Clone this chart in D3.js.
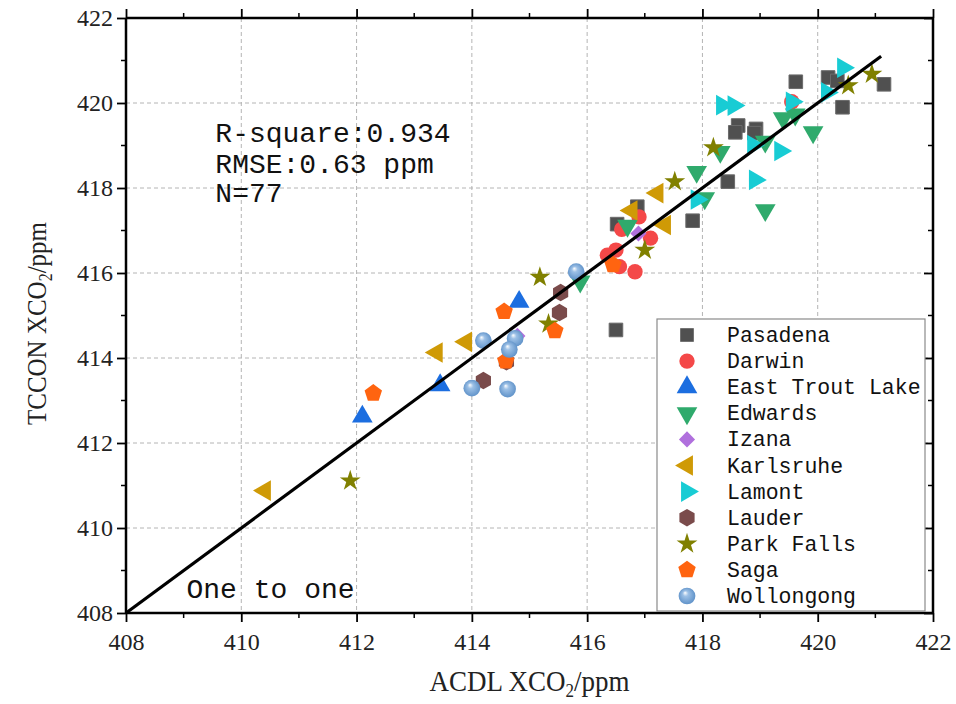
<!DOCTYPE html>
<html>
<head>
<meta charset="utf-8">
<script src="https://cdn.jsdelivr.net/npm/d3@7"></script>
<style>
  body { margin: 0; background: #fff; }
  svg { display: block; }
</style>
</head>
<body>
<div id="chart"></div>
<script>
// Site names, legend order
var sites = ["Pasadena", "Darwin", "East Trout Lake", "Edwards", "Izana", "Karlsruhe",
             "Lamont", "Lauder", "Park Falls", "Saga", "Wollongong"];

// ACDL (x) / TCCON (y) pairs
var pasadena = [[419.62,420.50],[420.18,420.60],[420.34,420.52],[421.15,420.44],[420.43,419.90],
                [418.62,419.47],[418.57,419.31],[418.93,419.39],[418.90,419.29],[418.44,418.15],
                [417.83,417.23],[416.87,417.56],[416.52,417.15],[416.50,414.66]];
var darwin = [[419.55,420.03],[416.90,417.32],[416.60,417.03],[417.10,416.82],[416.35,416.42],
              [416.50,416.54],[416.56,416.15],[416.83,416.03]];
var eastTroutLake = [[414.82,415.32],[413.45,413.36],[412.10,412.62]];
var edwards = [[417.90,418.38],[418.31,418.85],[419.09,419.09],[419.40,419.64],[419.61,419.73],
               [419.92,419.31],[419.09,417.48],[418.04,417.76],[416.70,417.11],[415.88,415.80]];
var izana = [[416.89,416.93],[414.79,414.52]];
var karlsruhe = [[417.22,417.88],[416.77,417.47],[417.35,417.13],[413.39,414.13],[413.90,414.38],
                 [410.41,410.88]];
var lamont = [[420.44,420.83],[420.16,420.25],[419.55,420.03],[418.34,419.95],[418.54,419.94],
              [418.88,419.01],[419.35,418.87],[418.91,418.19],[417.90,417.73]];
var lauder = [[415.54,415.54],[415.52,415.07],[414.60,413.91],[414.20,413.47]];
var parkFalls = [[418.19,418.95],[420.94,420.68],[420.53,420.41],[417.52,418.15],[417.00,416.54],
                 [415.18,415.90],[415.33,414.80],[411.89,411.11]];
var saga = [[414.56,415.09],[415.44,414.64],[414.59,413.93],[416.45,416.19],[412.29,413.17]];
var wollongong = [[415.81,416.03],[414.20,414.41],[414.75,414.46],[414.65,414.20],[414.00,413.29],
                  [414.62,413.27]];

var seriesValues = [pasadena, darwin, eastTroutLake, edwards, izana, karlsruhe,
                    lamont, lauder, parkFalls, saga, wollongong];

var tickValues = [408, 410, 412, 414, 416, 418, 420, 422];
var statsLines = ["R-square:0.934", "RMSE:0.63 ppm", "N=77"];
var oneToOne = [408, 421.1];

// marker look per site
var colors = ["#505050", "#f44848", "#1c6ee0", "#2faa6c", "#b070dd", "#cf9a06",
              "#18ccd4", "#7a4b4b", "#808000", "#ff6410", "#6a9fd4"];

// custom polygon symbols
function polygon(n, k, rot) {
    return {
        draw: function(ctx, size) {
            var r = Math.sqrt(size / k);
            for (var i = 0; i < n; i++) {
                var a = rot + i * 2 * Math.PI / n;
                var px = r * Math.sin(a), py = -r * Math.cos(a);
                if (i === 0) ctx.moveTo(px, py); else ctx.lineTo(px, py);
            }
            ctx.closePath();
        }
    };
}
var pentagon = polygon(5, 2.378, 0);
var hexagon = polygon(6, 2.598, 0);

var markers = [
    {type: d3.symbolSquare, size: 185, rot: 0},
    {type: d3.symbolCircle, size: 185, rot: 0},
    {type: d3.symbolTriangle, size: 185, rot: 0},
    {type: d3.symbolTriangle, size: 185, rot: 180},
    {type: d3.symbolSquare, size: 130, rot: 45},
    {type: d3.symbolTriangle, size: 185, rot: -90},
    {type: d3.symbolTriangle, size: 185, rot: 90},
    {type: hexagon, size: 200, rot: 0},
    {type: d3.symbolStar, size: 135, rot: 0},
    {type: pentagon, size: 200, rot: 0},
    {type: d3.symbolCircle, size: 220, rot: 0}
];

var W = 956, H = 704;
var margin = {top: 18, right: 23, bottom: 91, left: 126};
var width = W - margin.left - margin.right,
    height = H - margin.top - margin.bottom;

var svg = d3.select("#chart").append("svg")
    .attr("width", W)
    .attr("height", H);

var defs = svg.append("defs");
var grad = defs.append("radialGradient")
    .attr("id", "sphere")
    .attr("cx", "50%").attr("cy", "50%").attr("r", "55%")
    .attr("fx", "38%").attr("fy", "30%");
grad.append("stop").attr("offset", "0%").attr("stop-color", "#ffffff");
grad.append("stop").attr("offset", "30%").attr("stop-color", "#9cc0e6");
grad.append("stop").attr("offset", "100%").attr("stop-color", "#5a8ec6");

var g = svg.append("g")
    .attr("transform", "translate(" + margin.left + "," + margin.top + ")");

var x = d3.scaleLinear().domain([408, 422]).range([0, width]);
var y = d3.scaleLinear().domain([408, 422]).range([height, 0]);

var inner = tickValues.slice(1, -1);
var minorTicks = d3.range(408, 423, 1);

// grid
g.append("g").selectAll("line").data(inner).join("line")
    .attr("x1", function(d) { return x(d); }).attr("x2", function(d) { return x(d); })
    .attr("y1", 0).attr("y2", height)
    .attr("stroke", "#b4b4b4").attr("stroke-width", 1).attr("stroke-dasharray", "4,3");
g.append("g").selectAll("line").data(inner).join("line")
    .attr("y1", function(d) { return y(d); }).attr("y2", function(d) { return y(d); })
    .attr("x1", 0).attr("x2", width)
    .attr("stroke", "#b4b4b4").attr("stroke-width", 1).attr("stroke-dasharray", "4,3");

// stats text
g.append("g").selectAll("text").data(statsLines).join("text")
    .attr("x", x(409.55))
    .attr("y", function(d, i) { return [124, 155, 184][i]; })
    .attr("font-family", "Liberation Mono, monospace")
    .attr("font-size", 28)
    .attr("fill", "#111")
    .text(function(d) { return d; });

g.append("text")
    .attr("x", x(409.05)).attr("y", 580)
    .attr("font-family", "Liberation Mono, monospace")
    .attr("font-size", 28)
    .attr("fill", "#111")
    .text("One to one");

// points
function symbolPath(m) { return d3.symbol().type(m.type).size(m.size)(); }

seriesValues.forEach(function(vals, si) {
    var m = markers[si];
    g.append("g").selectAll("path").data(vals).join("path")
        .attr("d", symbolPath(m))
        .attr("transform", function(d) {
            return "translate(" + x(d[0]) + "," + y(d[1]) + ") rotate(" + m.rot + ")";
        })
        .attr("fill", si === 10 ? "url(#sphere)" : colors[si])
        .attr("stroke", si === 0 ? "#6a6a6a" : "none")
        .attr("stroke-width", 1);
});

// one to one line
g.append("line")
    .attr("x1", x(oneToOne[0])).attr("y1", y(oneToOne[0]))
    .attr("x2", x(oneToOne[1])).attr("y2", y(oneToOne[1]))
    .attr("stroke", "#000").attr("stroke-width", 3.2);

// axes
var fmt = d3.format("d");
var axB = g.append("g").attr("transform", "translate(0," + height + ")")
    .call(d3.axisBottom(x).tickValues(tickValues).tickFormat(fmt).tickSize(9).tickPadding(11));
var axL = g.append("g")
    .call(d3.axisLeft(y).tickValues(tickValues).tickFormat(fmt).tickSize(9).tickPadding(4));
var axT = g.append("g")
    .call(d3.axisTop(x).tickValues(tickValues).tickFormat("").tickSize(9));
var axR = g.append("g").attr("transform", "translate(" + width + ",0)")
    .call(d3.axisRight(y).tickValues(tickValues).tickFormat("").tickSize(-9));

// minor ticks
function minor(sel, horiz, dir) {
    sel.append("g").selectAll("line").data(minorTicks.filter(function(d) { return d % 2 === 1; }))
        .join("line")
        .attr(horiz ? "x1" : "y1", function(d) { return horiz ? x(d) : y(d); })
        .attr(horiz ? "x2" : "y2", function(d) { return horiz ? x(d) : y(d); })
        .attr(horiz ? "y1" : "x1", 0)
        .attr(horiz ? "y2" : "x2", dir * 5)
        .attr("stroke", "#000").attr("stroke-width", 1.5);
}
minor(axB, true, 1);
minor(axT, true, -1);
minor(axL, false, -1);
minor(axR, false, -1);

[axB, axL, axT, axR].forEach(function(a) {
    a.select(".domain").attr("stroke-width", 2.5).attr("stroke", "#000");
    a.selectAll(".tick line").attr("stroke-width", 1.8);
    a.selectAll("text")
        .attr("font-family", "Liberation Serif, serif")
        .attr("font-size", 24)
        .attr("fill", "#222");
});
axB.select(".domain").attr("d", "M0,0H" + width);
axT.select(".domain").attr("d", "M0,0H" + width);
axL.select(".domain").attr("d", "M0,0V" + height);
axR.select(".domain").attr("d", "M0,0V" + height);

// axis titles
var xt = svg.append("text")
    .attr("transform", "translate(" + (margin.left + width / 2) + ",691) scale(1,1.1)")
    .attr("text-anchor", "middle")
    .attr("font-family", "Liberation Serif, serif")
    .attr("font-size", 27)
    .attr("fill", "#222");
xt.append("tspan").text("ACDL XCO");
xt.append("tspan").attr("font-size", 17).attr("dy", 5).text("2");
xt.append("tspan").attr("dy", -5).text("/ppm");

var yt = svg.append("text")
    .attr("transform", "translate(46," + (margin.top + height / 2 + 8) + ") rotate(-90) scale(1,1.12)")
    .attr("text-anchor", "middle")
    .attr("font-family", "Liberation Serif, serif")
    .attr("font-size", 25)
    .attr("fill", "#222");
yt.append("tspan").text("TCCON XCO");
yt.append("tspan").attr("font-size", 16).attr("dy", 5).text("2");
yt.append("tspan").attr("dy", -5).text("/ppm");

// legend
var lg = svg.append("g").attr("transform", "translate(657,319)");
lg.append("rect")
    .attr("width", 268).attr("height", 292)
    .attr("fill", "#fff").attr("stroke", "#8a8a8a").attr("stroke-width", 1.2);
sites.forEach(function(name, i) {
    var m = markers[i];
    var row = lg.append("g").attr("transform", "translate(0," + (16 + i * 26.1) + ")");
    row.append("path")
        .attr("d", symbolPath(m))
        .attr("transform", "translate(30,0) rotate(" + m.rot + ")")
        .attr("fill", i === 10 ? "url(#sphere)" : colors[i]);
    row.append("text")
        .attr("x", 70).attr("y", 7)
        .attr("font-family", "Liberation Mono, monospace")
        .attr("font-size", 21.5)
        .attr("fill", "#111")
        .text(name);
});
</script>
</body>
</html>
